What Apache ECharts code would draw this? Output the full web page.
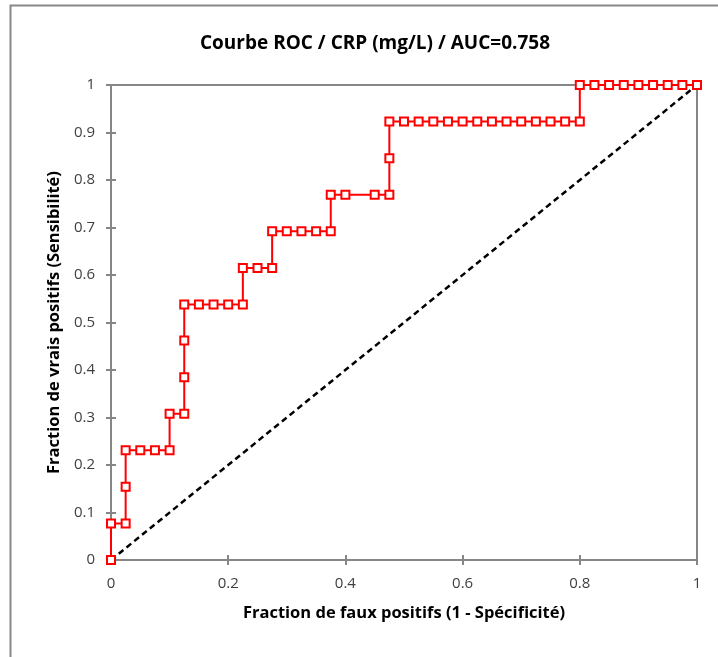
<!DOCTYPE html>
<html><head><meta charset="utf-8">
<script src="https://cdn.jsdelivr.net/npm/echarts@6/dist/echarts.min.js"></script>
<style>html,body{margin:0;padding:0;background:#fff}#c{width:718px;height:657px}</style>
</head><body><div id="c"></div>
<script>
const titleText = 'Courbe ROC / CRP (mg/L) / AUC=0.758';
const xTitle = 'Fraction de faux positifs (1 - Spécificité)';
const yTitle = 'Fraction de vrais positifs (Sensibilité)';
const fpr = [0,0,0.025,0.025,0.025,0.05,0.075,0.1,0.1,0.125,0.125,0.125,0.125,0.15,0.175,0.2,0.225,0.225,0.25,0.275,0.275,0.3,0.325,0.35,0.375,0.375,0.4,0.45,0.475,0.475,0.475,0.5,0.525,0.55,0.575,0.6,0.625,0.65,0.675,0.7,0.725,0.75,0.775,0.8,0.8,0.825,0.85,0.875,0.9,0.925,0.95,0.975,1];
const tpr = [0,0.077,0.077,0.154,0.231,0.231,0.231,0.231,0.308,0.308,0.385,0.462,0.538,0.538,0.538,0.538,0.538,0.615,0.615,0.615,0.692,0.692,0.692,0.692,0.692,0.769,0.769,0.769,0.769,0.846,0.923,0.923,0.923,0.923,0.923,0.923,0.923,0.923,0.923,0.923,0.923,0.923,0.923,0.923,1,1,1,1,1,1,1,1,1];
const diagX = [0,1];
const diagY = [0,1];
const xTicks = [0,0.2,0.4,0.6,0.8,1];
const yTicks = [0,0.1,0.2,0.3,0.4,0.5,0.6,0.7,0.8,0.9,1];

const font = '"Open Sans", "Liberation Sans", sans-serif';
const axisColor = '#868686';
const chart = echarts.init(document.getElementById('c'), null, {renderer:'canvas'});
const baseAxis = {
  min:0, max:1,
  axisLine:{show:true, onZero:false, lineStyle:{color:axisColor, width:2}},
  splitLine:{show:false}
};
chart.setOption({
  animation:false,
  backgroundColor:'#fff',
  graphic:[{type:'rect', shape:{x:10.5,y:5.5,width:720,height:660}, style:{fill:'none', stroke:'#878787', lineWidth:2}, z:-1}],
  title:{text:titleText, left:370, top:29, textAlign:'center',
    textStyle:{fontFamily:font, fontSize:19, fontWeight:'bold', color:'#000'}},
  grid:[{left:111, right:21, top:85, bottom:97, show:true, borderColor:axisColor, borderWidth:2}],
  xAxis:[
    Object.assign({}, baseAxis, {type:'value', interval:0.2, position:'bottom',
      name:xTitle, nameLocation:'middle', nameGap:45,
      nameTextStyle:{fontFamily:font, fontSize:16.5, fontWeight:'bold', color:'#000'},
      axisTick:{show:true, length:5, lineStyle:{color:axisColor, width:2}},
      axisLabel:{fontFamily:font, fontSize:15, color:'#404040', margin:16,
        formatter:v=>String(+v.toFixed(1))}}),
    Object.assign({}, baseAxis, {type:'value', interval:0.2, position:'bottom',
      axisTick:{show:true, inside:true, length:5, lineStyle:{color:axisColor, width:2}},
      axisLabel:{show:false}})
  ],
  yAxis:[
    Object.assign({}, baseAxis, {type:'value', interval:0.1, position:'left',
      name:yTitle, nameLocation:'middle', nameGap:46, nameRotate:90,
      nameTextStyle:{fontFamily:font, fontSize:16.5, fontWeight:'bold', color:'#000'},
      axisTick:{show:true, length:5, lineStyle:{color:axisColor, width:2}},
      axisLabel:{fontFamily:font, fontSize:15, color:'#404040', margin:16,
        formatter:v=>String(+v.toFixed(1))}}),
    Object.assign({}, baseAxis, {type:'value', interval:0.1, position:'left',
      axisTick:{show:true, inside:true, length:5, lineStyle:{color:axisColor, width:2}},
      axisLabel:{show:false}})
  ],
  series:[
    {type:'line', xAxisIndex:0, yAxisIndex:0, data:diagX.map((x,i)=>[x,diagY[i]]),
      symbol:'none', lineStyle:{color:'#000', width:2.5, type:[6,4]}, z:2},
    {type:'line', xAxisIndex:0, yAxisIndex:0, data:fpr.map((x,i)=>[x,tpr[i]]),
      symbol:'rect', symbolSize:8, showAllSymbol:true,
      itemStyle:{color:'#fff', borderColor:'#ff0000', borderWidth:2},
      lineStyle:{color:'#ff0000', width:2}, z:3}
  ]
});
</script></body></html>
